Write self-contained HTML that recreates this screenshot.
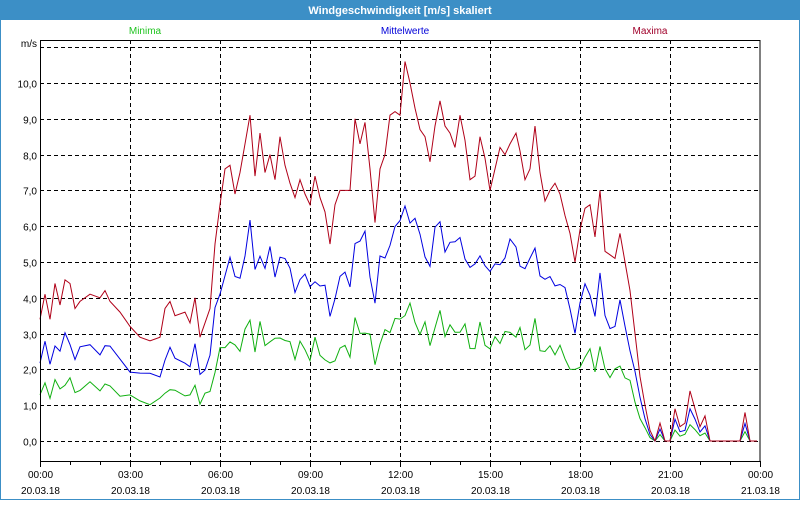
<!DOCTYPE html>
<html><head><meta charset="utf-8"><style>
body{margin:0;width:800px;height:500px;overflow:hidden;background:#fff;font-family:"Liberation Sans",sans-serif}
</style></head><body>
<svg id="s" width="800" height="500" xmlns="http://www.w3.org/2000/svg" font-family="Liberation Sans, sans-serif" font-size="10">
<rect x="0" y="0" width="800" height="500" fill="#fff"/>
<rect x="0" y="0" width="800" height="20" fill="#3c8fc6"/>
<rect x="0.5" y="0.5" width="799" height="499" fill="none" stroke="#3c8fc6"/>
<text x="400" y="14" fill="#fff" font-weight="bold" font-size="11" text-anchor="middle">Windgeschwindigkeit [m/s] skaliert</text>
<text x="145" y="34" fill="#1fc41f" text-anchor="middle">Minima</text>
<text x="405" y="34" fill="#0000d8" text-anchor="middle">Mittelwerte</text>
<text x="650" y="34" fill="#a0002a" text-anchor="middle">Maxima</text>
<g id="g"></g>
<rect x="40.5" y="40.5" width="719.5" height="421" fill="none" stroke="#000"/>
</svg>
<script>
var g=document.getElementById('g'),h='';
function Y(v){return 441-v*35.8;}
for(var i=0;i<=11;i++){var y=Math.round(Y(i))+0.5;h+='<line x1="40" x2="760" y1="'+y+'" y2="'+y+'" stroke="#000" stroke-dasharray="4,3"/>';
 if(i<11)h+='<text x="37" y="'+(y+4)+'" text-anchor="end">'+i+',0</text>';}
h+='<text x="37" y="'+(Y(11)+0)+'" text-anchor="end">m/s</text>';
var t=['00:00','03:00','06:00','09:00','12:00','15:00','18:00','21:00','00:00'],d=['20.03.18','20.03.18','20.03.18','20.03.18','20.03.18','20.03.18','20.03.18','20.03.18','21.03.18'];
for(i=0;i<=8;i++){var x=40+i*90+0.5;if(i>0&&i<8)h+='<line x1="'+x+'" x2="'+x+'" y1="40" y2="461" stroke="#000" stroke-dasharray="4,3"/>';
 h+='<text x="'+x+'" y="478" text-anchor="middle">'+t[i]+'</text><text x="'+x+'" y="494" text-anchor="middle">'+d[i]+'</text>';}
for(i=0;i<=24;i++){var x=40+i*30+0.5;h+='<line x1="'+x+'" x2="'+x+'" y1="461" y2="'+(i%3?465:467)+'" stroke="#000"/>';}
var mx=[[40,3.4],[45,4.1],[50,3.4],[55,4.4],[60,3.8],[65,4.5],[70,4.4],[75,3.7],[80,3.9],[90,4.1],[100,4.0],[105,4.2],[110,3.9],[120,3.6],[130,3.2],[140,2.9],[150,2.8],[160,2.9],[165,3.7],[170,3.9],[175,3.5],[185,3.6],[190,3.3],[195,4.0],[200,2.9],[205,3.3],[210,3.7],[215,5.5],[220,6.6],[225,7.6],[230,7.7],[235,6.9],[240,7.5],[245,8.3],[250,9.1],[255,7.4],[260,8.6],[265,7.5],[270,8.0],[275,7.3],[280,8.5],[285,7.7],[290,7.2],[295,6.8],[300,7.3],[305,6.9],[310,6.6],[315,7.4],[320,6.8],[325,6.4],[330,5.5],[335,6.6],[340,7.0],[345,7.0],[350,7.0],[355,9.0],[360,8.3],[365,8.9],[370,7.6],[375,6.1],[380,7.6],[385,8.0],[390,9.1],[395,9.2],[400,9.1],[405,10.6],[410,10.0],[415,9.3],[420,8.7],[425,8.5],[430,7.8],[435,8.8],[440,9.5],[445,8.8],[450,8.6],[455,8.2],[460,9.1],[465,8.4],[470,7.3],[475,7.4],[480,8.5],[485,7.9],[490,7.0],[495,7.6],[500,8.2],[505,8.0],[510,8.3],[516,8.6],[520,8.1],[525,7.3],[530,7.6],[535,8.8],[540,7.5],[545,6.7],[550,7.0],[555,7.2],[560,6.9],[565,6.3],[570,5.8],[575,5.0],[580,5.9],[585,6.5],[590,6.6],[595,5.7],[600,7.0],[605,5.3],[610,5.2],[615,5.1],[620,5.8],[625,5.0],[630,4.2],[635,3.0],[640,1.8],[645,1.0],[650,0.3],[655,0],[660,0.5],[665,0],[670,0],[675,0.9],[680,0.4],[685,0.5],[690,1.4],[695,0.9],[700,0.4],[705,0.7],[710,0],[740,0],[745,0.8],[750,0],[757,0]];
function pl(f,c){var p=mx.map(function(q,k){var v=f(q[1],k);return q[0]+','+Y(Math.max(0,v)).toFixed(1);}).join(' ');return '<polyline points="'+p+'" fill="none" stroke="'+c+'" stroke-width="1"/>';}
h+=pl(function(v,k){return v*(0.35+0.03*Math.sin(k*2.3))+(v>2?0.1:0);},'#10b010');
h+=pl(function(v,k){return v*(0.64+0.04*Math.sin(k*1.7));},'#0000e0');
h+=pl(function(v){return v;},'#b00018');
g.innerHTML=h;
</script>
</body></html>
